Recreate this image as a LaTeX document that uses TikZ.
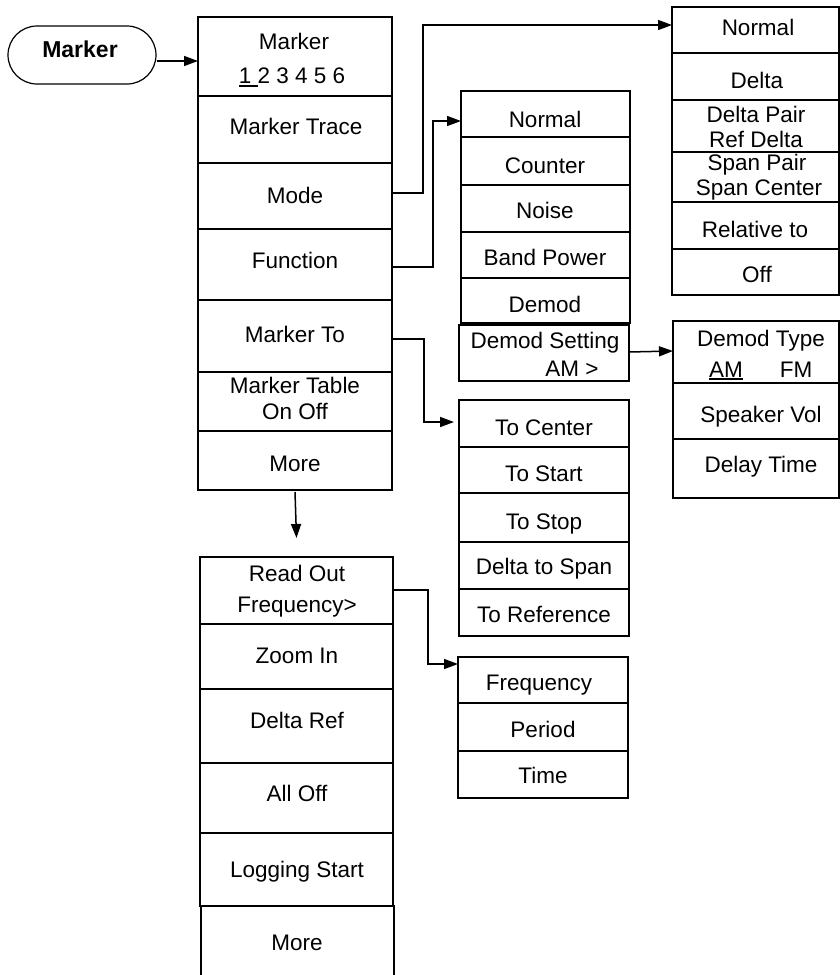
\documentclass[tikz,border=0pt]{standalone}
\usepackage{fontspec}
\setmainfont{Liberation Sans}
\usetikzlibrary{arrows.meta}
\newsavebox\ulbox
\newcommand\myul[2][-4pt]{\sbox\ulbox{#2}\rlap{\rule[#1]{\wd\ulbox}{1.8pt}}\usebox\ulbox}
\newcommand\mitem[5]{%
  \pgfmathsetmacro\mw{#4-#2}\pgfmathsetmacro\mh{#5-#3}%
  \node[cell, minimum width=\mw pt, minimum height=\mh pt, anchor=north west] (#1) at (#2,#3) {};}
\newcommand\mlabel[4]{\node[lbl] (#1) at (#2,#3) {#4};}
\begin{document}
\begin{tikzpicture}[x=1pt,y=-1pt,
  cell/.style={draw, line width=1.8pt, inner sep=0pt, outer sep=0pt},
  lbl/.style={anchor=base, inner sep=0pt, font=\fontsize{22.5}{27}\selectfont},
  conn/.style={line width=1.5pt, -{Triangle[length=14pt,width=10pt]}},
  pill/.style={draw, line width=1.2pt, rounded corners=29pt, minimum width=148pt, minimum height=58pt, inner sep=0pt}]
\useasboundingbox (0,0) rectangle (840,975);

% Marker hard key
\node[pill] (key) at (82,55) {};
\node[lbl, font=\fontsize{23}{27}\selectfont\bfseries] (keyt) at (80,57) {Marker};

% Main column
\mitem{mk}{198}{17}{392}{96}
\mlabel{mkt1}{294}{49}{Marker}
\mlabel{mkt2}{292}{83}{\myul{1\ }2 3 4 5 6}
\mitem{mt}{198}{96}{392}{163}   \mlabel{mtt}{296}{134}{Marker Trace}
\mitem{mode}{198}{163}{392}{229} \mlabel{modet}{295}{203}{Mode}
\mitem{fn}{198}{229}{392}{300}   \mlabel{fnt}{295}{268}{Function}
\mitem{mto}{198}{300}{392}{372}  \mlabel{mtot}{295}{342}{Marker To}
\mitem{mtab}{198}{372}{392}{431}
\mlabel{mtabt1}{295}{393}{Marker Table}
\mlabel{mtabt2}{295}{419}{On Off}
\mitem{more}{198}{431}{392}{490} \mlabel{moret}{295}{471}{More}

% Lower column
\mitem{ro}{200}{557}{393}{624}
\mlabel{rot1}{297}{581}{Read Out}
\mlabel{rot2}{297}{612}{Frequency>}
\mitem{zoom}{200}{624}{393}{689} \mlabel{zoomt}{297}{663}{Zoom In}
\mitem{dref}{200}{689}{393}{763} \mlabel{dreft}{297}{728}{Delta Ref}
\mitem{aoff}{200}{763}{393}{833} \mlabel{aofft}{297}{801}{All Off}
\mitem{logs}{200}{833}{393}{906} \mlabel{logst}{297}{877}{Logging Start}
\mitem{moreb}{201}{906}{394}{990} \mlabel{morebt}{297}{950}{More}

% Function submenu
\mitem{fnorm}{461}{91}{630}{137}  \mlabel{fnormt}{545}{127}{Normal}
\mitem{cnt}{461}{137}{630}{185}   \mlabel{cntt}{545}{173}{Counter}
\mitem{noise}{461}{185}{630}{232} \mlabel{noiset}{545}{218}{Noise}
\mitem{bpow}{461}{232}{630}{278}  \mlabel{bpowt}{545}{265}{Band Power}
\mitem{dem}{461}{278}{630}{323}   \mlabel{demt}{545}{312}{Demod}
\mitem{ds}{459}{325}{629}{381}
\mlabel{dst1}{545}{348}{Demod Setting}
\mlabel{dst2}{572}{376}{AM >}

% Marker To submenu
\mitem{tc}{459}{400}{629}{447}  \mlabel{tct}{544}{435}{To Center}
\mitem{tst}{459}{447}{629}{493} \mlabel{tstt}{544}{481}{To Start}
\mitem{tsp}{459}{493}{629}{542} \mlabel{tspt}{544}{529}{To Stop}
\mitem{dts}{459}{542}{629}{589} \mlabel{dtst}{544}{574}{Delta to Span}
\mitem{tref}{459}{589}{629}{636} \mlabel{treft}{544}{622}{To Reference}

% Read Out submenu
\mitem{freq}{458}{657}{628}{703} \mlabel{freqt}{539}{690}{Frequency}
\mitem{per}{458}{703}{628}{751}  \mlabel{pert}{543}{737}{Period}
\mitem{tim}{458}{751}{628}{798}  \mlabel{timt}{543}{783}{Time}

% Mode submenu
\mitem{mnorm}{672}{7}{839}{53}  \mlabel{mnormt}{758}{35}{Normal}
\mitem{mdel}{672}{53}{839}{100} \mlabel{mdelt}{757}{88}{Delta}
\mitem{mdp}{672}{100}{839}{152}
\mlabel{mdpt1}{756}{122}{Delta Pair}
\mlabel{mdpt2}{756}{147}{Ref Delta}
\mitem{msp}{672}{152}{839}{202}
\mlabel{mspt1}{757}{170}{Span Pair}
\mlabel{mspt2}{759}{195}{Span Center}
\mitem{mrel}{672}{202}{839}{249} \mlabel{mrelt}{755}{237}{Relative to}
\mitem{moff}{672}{249}{839}{295}  \mlabel{mofft}{757}{282}{Off}

% Demod setting submenu
\mitem{dtyp}{673}{321}{839}{383}
\mlabel{dtypt1}{761}{346}{Demod Type}
\mlabel{dtypt2}{726}{377}{\myul[-3pt]{AM}}
\mlabel{dtypt3}{796}{377}{FM}
\mitem{spk}{673}{383}{839}{439}  \mlabel{spkt}{761}{422}{Speaker Vol}
\mitem{dly}{673}{439}{839}{498}  \mlabel{dlyt}{761}{472}{Delay Time}

% Connectors
\draw[conn] ([yshift=-6pt]key.east) -- ([yshift=-4.5pt]mk.west);
\draw[conn] ([yshift=3pt]mode.east) -- ++(31,0) |- ([yshift=5pt]mnorm.west);
\draw[conn] ([yshift=-2.5pt]fn.east) -- ++(41,0) |- ([yshift=-7pt]fnorm.west);
\draw[conn] ([yshift=-3pt]mto.east) -- ++(32,0) |- ([xshift=-5pt,yshift=1.5pt]tc.west);
\draw[conn] ([yshift=0.5pt]ro.east) -- ++(35,0) |- ([yshift=16pt]freq.west);
\draw[conn] ([yshift=1pt]ds.east) -- ([yshift=1pt]dtyp.west);
\draw[conn] ([yshift=-2pt]more.south) -- ([yshift=19pt]ro.north);
\end{tikzpicture}
\end{document}
